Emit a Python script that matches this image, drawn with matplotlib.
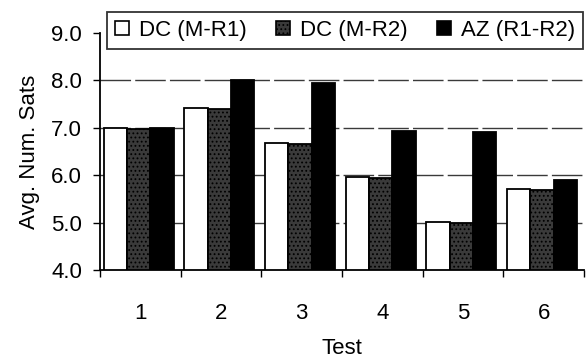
import numpy as np
import matplotlib.pyplot as plt
from matplotlib.patches import Patch

# ---------------------------------------------------------------------------
# Data
# ---------------------------------------------------------------------------
tests = ["1", "2", "3", "4", "5", "6"]
dc_m_r1 = [7.00, 7.42, 6.68, 5.96, 5.01, 5.70]
dc_m_r2 = [6.98, 7.40, 6.66, 5.94, 4.99, 5.68]
az_r1_r2 = [7.00, 8.00, 7.95, 6.93, 6.91, 5.90]
series_labels = ["DC (M-R1)", "DC (M-R2)", "AZ (R1-R2)"]
y_ticks = [4.0, 5.0, 6.0, 7.0, 8.0, 9.0]

plt.rcParams["font.family"] = ["Liberation Sans", "DejaVu Sans"]
plt.rcParams["hatch.color"] = "white"
plt.rcParams["hatch.linewidth"] = 0.8

fig = plt.figure(figsize=(5.86, 3.58), dpi=100)
ax = fig.add_axes([100 / 586, 1 - 270 / 358, 484 / 586, 237 / 358])

x = np.arange(1, len(tests) + 1)
w = 0.29
styles = [
    dict(facecolor="white", edgecolor="black", hatch=None),
    dict(facecolor="#3a3a3a", edgecolor="black", hatch="...."),
    dict(facecolor="black", edgecolor="black", hatch=None),
]
for i, (vals, st) in enumerate(zip([dc_m_r1, dc_m_r2, az_r1_r2], styles)):
    ax.bar(x + (i - 1) * w - 0.02, np.array(vals) - 4.0, width=w, bottom=4.0,
           linewidth=1.3, zorder=3, **st)

ax.set_xlim(0.5, 6.5)
ax.set_ylim(4.0, 9.0)
ax.set_yticks(y_ticks)
ax.set_yticklabels([f"{v:.1f}" for v in y_ticks])
for v in y_ticks[1:-1]:
    ax.axhline(v, color="#3a3a3a", lw=1.0, ls=(0, (22, 3)), zorder=1)

# category ticks at boundaries, labels in the middle
ax.set_xticks(np.arange(0.5, 7.0, 1.0))
ax.set_xticklabels([])
ax.set_xticks(x, minor=True)
ax.set_xticklabels(tests, minor=True)
ax.tick_params(axis="x", which="major", direction="out", length=5, width=1)
ax.tick_params(axis="x", which="minor", length=0, pad=24, labelsize=16)
ax.tick_params(axis="y", direction="out", length=5, width=1, pad=8,
               labelsize=16)

for s in ["top", "right"]:
    ax.spines[s].set_visible(False)
ax.spines["left"].set_linewidth(1.3)
ax.spines["bottom"].set_linewidth(1.3)

ax.set_xlabel("Test", fontsize=16, labelpad=10)
ax.set_ylabel("Avg. Num. Sats", fontsize=16, labelpad=8)

handles = [Patch(linewidth=1.2, **st) for st in styles]
fig.legend(handles, series_labels, loc="upper left",
           bbox_to_anchor=(107 / 586, 1 - 12 / 358), ncol=3,
           fontsize=16, frameon=True, fancybox=False, edgecolor="black",
           handlelength=0.65, handleheight=0.65, handletextpad=0.45,
           columnspacing=1.3, borderpad=0.35, borderaxespad=0)
fig.legends[0].get_frame().set_linewidth(1.3)

fig.savefig("out.png", dpi=100)
